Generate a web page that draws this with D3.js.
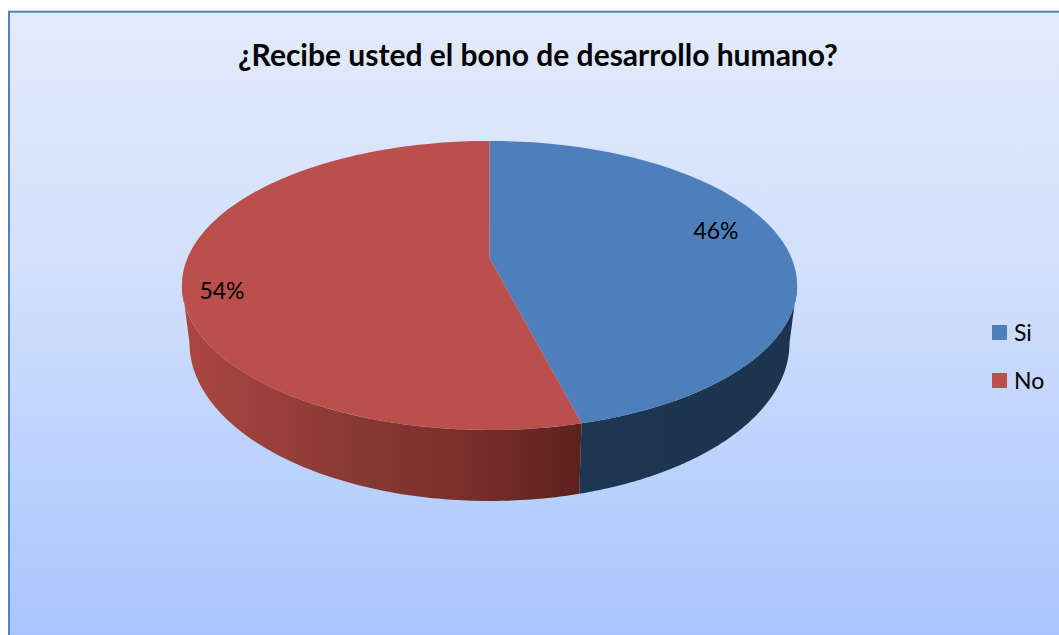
<!DOCTYPE html>
<html><head><meta charset="utf-8">
<script src="https://cdn.jsdelivr.net/npm/d3@7"></script>
<style>html,body{margin:0;padding:0;background:#fff;overflow:hidden}svg{display:block}text{font-family:Lato,"Open Sans",sans-serif;fill:#000}</style>
</head><body><svg id="c" width="1059" height="635"></svg>
<script>
const titleText = "¿Recibe usted el bono de desarrollo humano?";
const categories = ["Si", "No"];
const values = [46, 54];
const labels = ["46%", "54%"];
const colors = ["#4f7fbb", "#bb4f4b"];
const svg = d3.select("#c");
const defs = svg.append("defs");

const bg = defs.append("linearGradient").attr("id","bg").attr("x1",0).attr("y1",0).attr("x2",0).attr("y2",1);
[[0,"#e3eafb"],[0.4,"#d2e0fc"],[0.75,"#b8d0fd"],[1,"#a6c4fd"]].forEach(s=>bg.append("stop").attr("offset",s[0]).attr("stop-color",s[1]));
svg.append("rect").attr("x",9).attr("y",11.7).attr("width",1060).attr("height",640).attr("fill","url(#bg)").attr("stroke","#4f81bd").attr("stroke-width",2);

// perspective pie: unit circle to screen
const cx=489.5, y0=258, a=302, b=139.3, k=0.19;
const project=t=>{const X=Math.sin(t),Y=Math.cos(t),w=1+k*Y;return [cx+a*X/w, y0-b*Y/w];};
// lower rim of the wall
const rimRx=300, rimCy=343, rimRy=158;
const rim=t=>{const p=project(t),x=cx+(p[0]-cx)*rimRx/307.6;const u=(x-cx)/rimRx;return [x, rimCy+rimRy*Math.sqrt(Math.max(0,1-u*u))];};
const pie=d3.pie().sort(null).value(d=>d)(values);
const line=d3.line();
const arcPts=(f,s,e)=>d3.range(0,121).map(i=>f(s+(e-s)*i/120));

const wallG=(id,stops)=>{const g=defs.append("linearGradient").attr("id",id).attr("gradientUnits","userSpaceOnUse").attr("x1",182).attr("x2",797).attr("y1",0).attr("y2",0);stops.forEach(s=>g.append("stop").attr("offset",s[0]).attr("stop-color",s[1]));};
wallG("w0",[[0.64,"#1f3653"],[1,"#1d344e"]]);
wallG("w1",[[0,"#ac4641"],[0.15,"#993f3a"],[0.3,"#873833"],[0.5,"#752c28"],[0.645,"#5e221d"]]);

const visLo=Math.PI*0.56, visHi=Math.PI*1.44;
pie.forEach((p,i)=>{
  const s=Math.max(p.startAngle,visLo), e=Math.min(p.endAngle,visHi);
  const pts=arcPts(project,s,e).concat(arcPts(rim,s,e).reverse());
  svg.append("path").attr("d",line(pts)+"Z").attr("fill",`url(#w${i})`);
});
pie.forEach((p,i)=>{
  const pts=[[cx,y0]].concat(arcPts(project,p.startAngle,p.endAngle));
  svg.append("path").attr("d",line(pts)+"Z").attr("fill",colors[i]);
});

svg.append("text").attr("x",538).attr("y",66).attr("text-anchor","middle").attr("font-size",30).attr("font-weight",700).text(titleText);
svg.append("text").attr("x",716).attr("y",239).attr("text-anchor","middle").attr("font-size",23).text(labels[0]);
svg.append("text").attr("x",222).attr("y",299).attr("text-anchor","middle").attr("font-size",23).text(labels[1]);

const legendY=d3.scalePoint().domain(categories).range([332.5,380.5]);
categories.forEach((c,i)=>{
  svg.append("rect").attr("x",992).attr("y",legendY(c)-7.5).attr("width",15).attr("height",15).attr("fill",colors[i]);
  svg.append("text").attr("x",1014).attr("y",legendY(c)+8).attr("font-size",23).text(c);
});
</script></body></html>
